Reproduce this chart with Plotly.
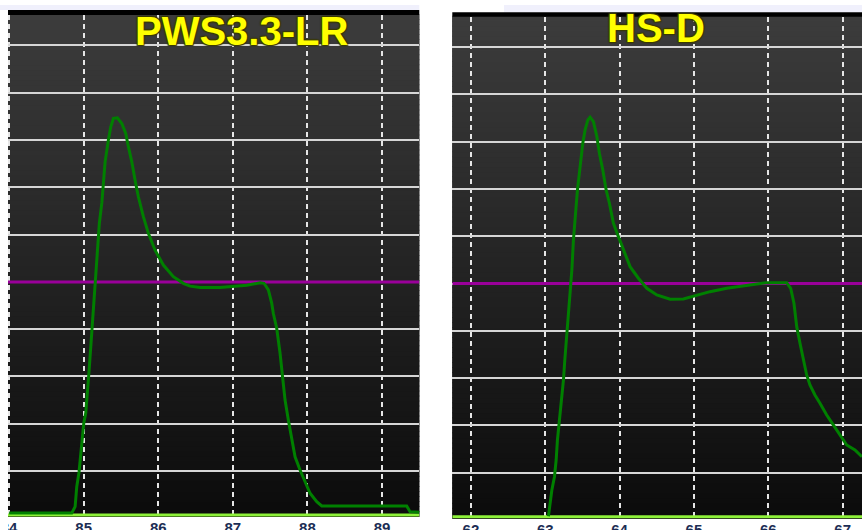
import plotly.graph_objects as go

W, H = 862, 530

# ---------------- data ----------------
pws_x = [84.00, 84.84, 84.885, 84.907, 84.938, 84.961, 84.983, 85.001, 85.028, 85.055,
         85.076, 85.095, 85.113, 85.130, 85.153, 85.176, 85.210, 85.243, 85.264, 85.287,
         85.331, 85.363, 85.398, 85.452, 85.511, 85.564, 85.599, 85.645, 85.689, 85.733,
         85.800, 85.867, 85.957, 86.068, 86.202, 86.336, 86.426, 86.560, 86.828, 87.007,
         87.186, 87.365, 87.418, 87.476, 87.521, 87.543, 87.588, 87.633, 87.669, 87.700,
         87.744, 87.790, 87.834, 87.901, 87.968, 88.035, 88.125, 88.192, 89.331, 89.375,
         89.509]
pws_y = [0.11, 0.11, 0.245, 0.668, 0.985, 1.38, 1.655, 2.01, 2.23, 2.71,
         3.205, 3.63, 4.05, 4.545, 5.00, 5.46, 6.24, 6.67, 7.15, 7.54,
         8.00, 8.28, 8.46, 8.47, 8.35, 8.14, 7.86, 7.54, 7.15, 6.80,
         6.38, 6.03, 5.67, 5.355, 5.11, 4.97, 4.91, 4.88, 4.88, 4.91,
         4.93, 4.98, 4.97, 4.83, 4.55, 4.33, 4.02, 3.49, 2.99, 2.50,
         2.08, 1.655, 1.30, 1.02, 0.775, 0.53, 0.35, 0.26, 0.26, 0.14,
         0.127]

hs_x = [63.043, 63.066, 63.089, 63.124, 63.147, 63.164, 63.187, 63.210, 63.231, 63.245,
        63.263, 63.281, 63.298, 63.317, 63.335, 63.358, 63.379, 63.402, 63.433, 63.469,
        63.505, 63.536, 63.573, 63.603, 63.648, 63.694, 63.728, 63.774, 63.819, 63.863,
        63.917, 63.984, 64.051, 64.141, 64.253, 64.366, 64.500, 64.679, 64.858, 65.038,
        65.216, 65.441, 65.710, 65.978, 66.247, 66.301, 66.345, 66.382, 66.426, 66.470,
        66.516, 66.560, 66.627, 66.695, 66.785, 66.874, 66.964, 67.054, 67.165, 67.259]
hs_y = [0.08, 0.353, 0.634, 0.915, 1.269, 1.692, 2.045, 2.396, 2.608, 2.961,
        3.384, 3.737, 4.089, 4.442, 4.865, 5.288, 5.923, 6.416, 6.981, 7.473,
        7.968, 8.250, 8.461, 8.519, 8.425, 8.108, 7.757, 7.404, 6.981, 6.699,
        6.276, 5.993, 5.711, 5.358, 5.113, 4.901, 4.759, 4.668, 4.675, 4.759,
        4.829, 4.901, 4.956, 5.019, 5.019, 4.901, 4.584, 4.089, 3.737, 3.384,
        3.067, 2.855, 2.644, 2.468, 2.221, 2.010, 1.798, 1.586, 1.480, 1.338]

LEVEL = 5.0          # purple reference level
BASELINE = 0.07      # bright green baseline
left_ticks = [84, 85, 86, 87, 88, 89]
right_ticks = [62, 63, 64, 65, 66, 67]
left_range = [83.985, 89.5]
right_range = [61.75, 67.26]
y_range = [0.027, 10.645]
y_grid = [1, 2, 3, 4, 5, 6, 7, 8, 9, 10]
titles = ["PWS3.3-LR", "HS-D"]

# ---------------- figure ----------------
def px_x(p):
    return p / W

def px_y(p):
    return (H - p) / H

fig = go.Figure()

CURVE = "#008000"
panels = [("x", "y", left_range, pws_x, pws_y), ("x2", "y2", right_range, hs_x, hs_y)]
for xa, ya, xr, cx, cy in panels:
    fig.add_trace(go.Scatter(x=xr, y=[BASELINE, BASELINE], mode="lines", xaxis=xa, yaxis=ya,
                             line=dict(color="#8ef23a", width=3), hoverinfo="skip",
                             showlegend=False, cliponaxis=False))
    fig.add_trace(go.Scatter(x=xr, y=[LEVEL, LEVEL], mode="lines", xaxis=xa, yaxis=ya,
                             line=dict(color="#9a009a", width=3), hoverinfo="skip",
                             showlegend=False))
    fig.add_trace(go.Scatter(x=cx, y=cy, mode="lines", xaxis=xa, yaxis=ya,
                             line=dict(color=CURVE, width=3), hoverinfo="skip",
                             showlegend=False))

shapes = []
# gradient background bands
N = 100
top_c, bot_c = 60, 11
for ax in ["", "2"]:
    for i in range(N):
        f = (i + 0.5) / N
        c = int(round(bot_c + (top_c - bot_c) * f))
        shapes.append(dict(type="rect", xref=f"x{ax} domain", yref=f"y{ax} domain",
                           x0=0, x1=1, y0=i / N, y1=(i + 1) / N + 0.002,
                           fillcolor=f"rgb({c},{c},{c})", line=dict(width=0),
                           layer="below"))

# window chrome: lavender strips and black bars above panels
shapes.append(dict(type="rect", xref="paper", yref="paper", x0=0, x1=px_x(419.3),
                   y0=px_y(10), y1=px_y(5), fillcolor="#f0f0fc", line=dict(width=0)))
shapes.append(dict(type="rect", xref="paper", yref="paper", x0=px_x(504), x1=1,
                   y0=px_y(12.3), y1=px_y(5), fillcolor="#f0f0fc", line=dict(width=0)))
shapes.append(dict(type="rect", xref="paper", yref="paper", x0=px_x(8), x1=px_x(419.3),
                   y0=px_y(15), y1=px_y(10), fillcolor="#000000", line=dict(width=0)))
shapes.append(dict(type="rect", xref="paper", yref="paper", x0=px_x(452.3), x1=1,
                   y0=px_y(16.7), y1=px_y(12.3), fillcolor="#000000", line=dict(width=0)))
# crop mask left of the first panel
shapes.append(dict(type="rect", xref="paper", yref="paper", x0=0, x1=px_x(8),
                   y0=0, y1=px_y(15), fillcolor="#ffffff", line=dict(width=0), layer="above"))

tickfont = dict(family="Liberation Sans", size=15, color="#1c2e55", weight="bold")
xcommon = dict(showgrid=True, gridcolor="#e6e6e6", gridwidth=2, griddash="5px,4px",
               zeroline=False, showline=False, ticks="", tickfont=tickfont,
               ticklabelstandoff=0,
               automargin=False, fixedrange=True, tickmode="array")
ycommon = dict(showgrid=True, gridcolor="#d6d6d6", gridwidth=2, zeroline=False,
               showline=False, ticks="", showticklabels=False, automargin=False,
               fixedrange=True, tickmode="array", tickvals=y_grid, range=y_range)

fig.update_layout(
    width=W, height=H,
    margin=dict(l=0, r=0, t=0, b=0),
    paper_bgcolor="#ffffff",
    plot_bgcolor="#1e1e1e",
    showlegend=False,
    xaxis=dict(domain=[px_x(8), px_x(419.3)], range=left_range, tickvals=left_ticks,
               anchor="y", **xcommon),
    yaxis=dict(domain=[px_y(517), px_y(15)], anchor="x", **ycommon),
    xaxis2=dict(domain=[px_x(452.3), 1.0], range=right_range, tickvals=right_ticks,
                anchor="y2", **xcommon),
    yaxis2=dict(domain=[px_y(518.7), px_y(16.7)], anchor="x2", **ycommon),
    shapes=shapes,
)

title_font = dict(family="Liberation Sans", size=40, color="#ffff00", weight="bold",
                  shadow="1px 1px 1px #3a3a00, -1px -1px 1px #3a3a00, 1px -1px 1px #3a3a00, -1px 1px 1px #3a3a00")
fig.add_annotation(text=titles[0], xref="paper", yref="paper", x=px_x(241.5), y=px_y(31),
                   xanchor="center", yanchor="middle", showarrow=False, font=title_font)
fig.add_annotation(text=titles[1], xref="paper", yref="paper", x=px_x(655.5), y=px_y(27.5),
                   xanchor="center", yanchor="middle", showarrow=False, font=title_font)

fig.write_html("out.html")
